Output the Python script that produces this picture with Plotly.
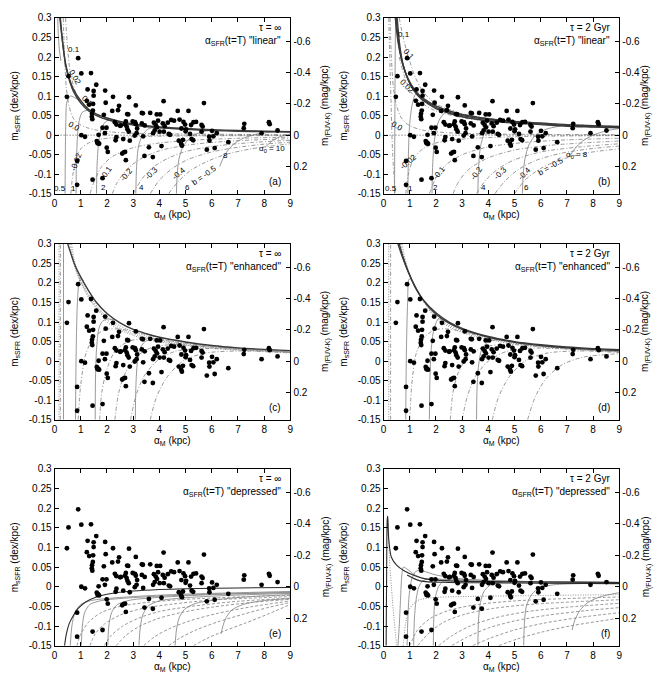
import plotly.graph_objects as go

# ---------------- data ----------------
X_TICKS = [0, 1, 2, 3, 4, 5, 6, 7, 8, 9]
Y_TICKS = [0.3, 0.25, 0.2, 0.15, 0.1, 0.05, 0, -0.05, -0.1, -0.15]
Y_TICK_TEXT = ["0.3", "0.25", "0.2", "0.15", "0.1", "0.05", "0", "-0.05", "-0.1", "-0.15"]
Y2_TICKS = [-0.6, -0.4, -0.2, 0, 0.2]
Y2_TICK_TEXT = ["-0.6", "-0.4", "-0.2", "0", "0.2"]

GAL_X = [0.47, 0.53, 0.9, 1.02, 1.39, 1.26, 1.59, 1.49, 1.49, 1.23, 1.32, 1.47, 1.46, 1.43, 1.42, 1.44,
         1.93, 1.95, 1.88, 2.23, 2.46, 2.42, 2.2, 2.84, 2.77, 2.81, 3.1, 3.33, 3.37, 3.65, 4.16, 3.9,
         4.03, 4.7, 5.11, 5.7, 7.24, 7.22, 8.18, 8.21, 8.51, 7.9, 1.02, 1.16, 1.61, 1.66, 1.7, 1.64,
         1.83, 1.98, 1.92, 1.68, 1.99, 2.03, 2.3, 2.36, 2.5, 2.36, 2.33, 2.53, 2.72, 2.69, 2.75, 2.78,
         2.83, 2.98, 3.1, 3.15, 3.13, 3.33, 3.44, 3.06, 3.38, 2.62, 2.87, 2.64, 2.69, 2.72, 2.58, 3.43,
         3.75, 3.6, 3.79, 3.86, 3.91, 3.82, 3.76, 3.95, 4.01, 4.13, 4.2, 4.17, 4.32, 4.45, 4.56, 4.77,
         4.36, 4.41, 4.08, 4.74, 4.9, 4.83, 4.86, 4.92, 4.98, 4.84, 5.02, 5.0, 5.17, 5.21, 5.4, 5.3,
         5.61, 5.65, 5.61, 5.23, 5.29, 6.01, 6.19, 5.9, 5.91, 6.06, 6.63, 5.81, 6.11, 0.86, 0.86, 1.45,
         1.83, 3.07]
GAL_Y = [0.098, 0.151, 0.197, 0.158, 0.159, 0.117, 0.129, 0.113, 0.101, 0.088, 0.078, 0.08, 0.063, 0.055, 0.047, 0.041,
         0.114, 0.083, 0.052, 0.098, 0.075, 0.064, 0.062, 0.097, 0.054, 0.053, 0.076, 0.057, 0.056, 0.057, 0.087, 0.053,
         0.053, 0.062, 0.062, 0.082, 0.029, 0.018, 0.033, 0.028, 0.012, 0.005, 0.0, -0.004, -0.015, -0.019, -0.022, -0.021,
         0.019, 0.019, 0.005, 0.001, -0.032, -0.043, 0.033, 0.027, 0.024, -0.005, -0.013, 0.025, 0.035, 0.028, 0.022, 0.015,
         0.009, 0.035, 0.028, 0.017, 0.005, 0.03, 0.025, -0.001, -0.003, -0.01, -0.014, -0.044, -0.043, -0.064, -0.047, -0.053,
         -0.056, -0.031, 0.032, 0.026, 0.02, 0.012, 0.005, 0.037, 0.009, 0.03, 0.023, 0.009, 0.032, 0.039, 0.037, 0.04,
         0.003, 0.001, -0.028, -0.014, -0.012, -0.022, -0.027, 0.034, 0.027, 0.017, 0.015, 0.01, 0.003, 0.026, 0.034, 0.033,
         0.026, 0.022, 0.009, -0.01, -0.013, 0.011, 0.005, -0.004, -0.014, -0.003, -0.018, -0.037, -0.033, -0.066, -0.127, -0.114,
         -0.11, 0.033]

ZERO_LINE = [(0, 0.0), (9, 0.0)]

# ---- panel (a): tau = inf, linear ----
A_BUNDLE = [
    [(0.2, 0.3), (0.3, 0.24), (0.4, 0.19), (0.5, 0.16), (0.7, 0.12), (1.0, 0.088), (1.3, 0.066), (1.6, 0.054), (2, 0.044),
     (2.5, 0.035), (3, 0.029), (4, 0.021), (5, 0.017), (6, 0.014), (7, 0.012), (8, 0.01), (9, 0.009)],
    [(0.22, 0.3), (0.32, 0.23), (0.42, 0.18), (0.52, 0.15), (0.72, 0.112), (1.0, 0.082), (1.3, 0.062), (1.6, 0.05), (2, 0.04),
     (2.5, 0.032), (3, 0.026), (4, 0.019), (5, 0.015), (6, 0.012), (7, 0.01), (8, 0.009), (9, 0.008)],
]
A_B_CURVES = [
    [(0.42, 0.3), (0.5, 0.22), (0.6, 0.16), (0.8, 0.11), (1.0, 0.083), (1.3, 0.063), (1.8, 0.044), (2.5, 0.032), (3.5, 0.023), (5, 0.016), (7, 0.011), (9, 0.009)],
    [(0.33, 0.3), (0.38, 0.2), (0.45, 0.12), (0.55, 0.075), (0.7, 0.045), (0.9, 0.03), (1.2, 0.02), (1.6, 0.013), (2.2, 0.008), (3, 0.005), (5, 0.003), (9, 0.001)],
    [(0.62, -0.15), (0.7, -0.1), (0.85, -0.055), (1.0, -0.035), (1.3, -0.02), (1.8, -0.01), (3, -0.004), (5, -0.002), (9, -0.001)],
    [(1.35, -0.15), (1.5, -0.12), (1.8, -0.08), (2.2, -0.055), (3, -0.032), (4, -0.02), (5.5, -0.012), (7, -0.008), (9, -0.005)],
    [(2.2, -0.15), (2.4, -0.12), (2.8, -0.085), (3.3, -0.06), (4, -0.04), (5, -0.026), (6.5, -0.016), (9, -0.009)],
    [(3.0, -0.15), (3.3, -0.115), (3.7, -0.085), (4.3, -0.06), (5, -0.042), (6, -0.029), (7.5, -0.019), (9, -0.013)],
    [(3.65, -0.15), (4.0, -0.115), (4.5, -0.085), (5.1, -0.062), (6, -0.043), (7, -0.031), (8, -0.023), (9, -0.018)],
    [(4.35, -0.15), (4.7, -0.12), (5.2, -0.09), (5.8, -0.068), (6.5, -0.05), (7.5, -0.035), (9, -0.022)],
]
A_A_CURVES = [
    [(0.40, -0.15), (0.41, -0.05), (0.43, 0.04), (0.47, 0.085), (0.6, 0.1), (0.8, 0.095), (1.0, 0.087)],
    [(0.82, -0.15), (0.83, -0.08), (0.86, -0.02), (0.92, 0.03), (1.05, 0.058), (1.3, 0.065)],
    [(1.6, -0.15), (1.62, -0.08), (1.68, -0.02), (1.8, 0.02), (2.0, 0.037), (2.3, 0.039)],
    [(3.1, -0.15), (3.13, -0.08), (3.2, -0.03), (3.35, 0.0), (3.6, 0.017), (4.0, 0.021)],
    [(4.65, -0.15), (4.68, -0.1), (4.75, -0.06), (4.9, -0.03), (5.2, -0.005), (5.6, 0.008), (6, 0.013)],
    [(6.3, -0.08), (6.5, -0.05), (6.8, -0.025), (7.2, -0.008), (7.8, 0.004), (8.5, 0.009)],
    [(8.05, -0.03), (8.3, -0.015), (8.6, -0.004), (9, 0.003)],
    [(0.12, 0.3), (0.14, 0.26), (0.18, 0.22), (0.24, 0.19)],
]
A_LABELS = [("0.1", 0.74, 0.219, 0), ("0.02", 0.78, 0.148, 60), ("0.1", 1.25, 0.086, 45), ("0.0", 0.74, 0.021, 30),
            ("-0.02", 0.84, -0.068, -70), ("-0.1", 1.95, -0.097, -55), ("-0.2", 2.74, -0.1, -50), ("-0.3", 3.68, -0.097, -45),
            ("-0.4", 4.75, -0.099, -40), ("b = -0.5", 5.7, -0.102, -35), ("0.5", 0.19, -0.137, 0), ("1", 0.74, -0.137, 0),
            ("2", 1.85, -0.135, 0), ("4", 3.3, -0.135, 0), ("6", 5.07, -0.135, 0), ("8", 6.52, -0.052, 0),
            ("α<sub>0</sub> = 10", 8.28, -0.035, 0)]

# ---- panel (b): tau = 2 Gyr, linear ----
B_BUNDLE = [
    [(0.45, 0.3), (0.55, 0.24), (0.7, 0.19), (0.9, 0.15), (1.1, 0.125), (1.4, 0.1), (1.7, 0.086), (2, 0.075), (2.5, 0.062),
     (3, 0.053), (4, 0.042), (5, 0.035), (6, 0.031), (7, 0.027), (8, 0.024), (9, 0.022)],
    [(0.48, 0.3), (0.58, 0.235), (0.72, 0.185), (0.92, 0.145), (1.12, 0.12), (1.42, 0.096), (1.72, 0.082), (2, 0.071), (2.5, 0.059),
     (3, 0.05), (4, 0.04), (5, 0.033), (6, 0.029), (7, 0.025), (8, 0.022), (9, 0.02)],
    [(0.52, 0.3), (0.62, 0.23), (0.75, 0.18), (0.95, 0.14), (1.15, 0.115), (1.45, 0.092), (1.75, 0.078), (2, 0.068), (2.5, 0.056),
     (3, 0.047), (4, 0.037), (5, 0.031), (6, 0.027), (7, 0.023), (8, 0.021), (9, 0.019)],
]
B_B_CURVES = [
    [(0.6, 0.3), (0.75, 0.25), (0.95, 0.2), (1.2, 0.15), (1.5, 0.112), (2, 0.08), (3, 0.055), (4, 0.043), (6, 0.031), (9, 0.022)],
    [(0.6, 0.2), (0.8, 0.15), (1.05, 0.11), (1.4, 0.085), (2, 0.062), (3, 0.045), (4, 0.036), (6, 0.027), (9, 0.019)],
    [(0.25, 0.3), (0.3, 0.2), (0.38, 0.12), (0.5, 0.075), (0.7, 0.042), (1, 0.024), (1.5, 0.013), (2.5, 0.006), (4, 0.003), (9, 0.001)],
    [(0.85, -0.15), (0.95, -0.1), (1.15, -0.06), (1.5, -0.035), (2, -0.02), (3, -0.01), (5, -0.004), (9, -0.001)],
    [(1.75, -0.15), (2.0, -0.11), (2.4, -0.075), (3, -0.05), (4, -0.03), (5.5, -0.018), (7, -0.012), (9, -0.008)],
    [(2.65, -0.15), (2.9, -0.115), (3.3, -0.085), (4, -0.058), (5, -0.038), (6.5, -0.025), (9, -0.015)],
    [(3.55, -0.15), (3.9, -0.115), (4.4, -0.085), (5, -0.063), (6, -0.043), (7.5, -0.03), (9, -0.022)],
    [(4.25, -0.15), (4.6, -0.12), (5.1, -0.09), (5.8, -0.065), (6.8, -0.046), (8, -0.034), (9, -0.028)],
    [(5.0, -0.15), (5.4, -0.115), (6, -0.085), (6.8, -0.062), (7.8, -0.045), (9, -0.035)],
    [(0.2, 0.3), (0.28, 0.1), (0.35, -0.05), (0.45, -0.15)],
]
B_A_CURVES = [
    [(0.42, -0.15), (0.43, 0.0), (0.44, 0.15), (0.46, 0.3)],
    [(0.93, -0.15), (0.95, -0.05), (1.0, 0.03), (1.1, 0.08), (1.22, 0.105), (1.35, 0.108)],
    [(1.85, -0.15), (1.88, -0.07), (1.95, -0.01), (2.1, 0.035), (2.35, 0.058), (2.7, 0.062)],
    [(3.6, -0.15), (3.63, -0.08), (3.7, -0.03), (3.85, 0.005), (4.1, 0.03), (4.5, 0.038)],
    [(5.3, -0.15), (5.33, -0.1), (5.4, -0.06), (5.55, -0.025), (5.8, 0.0), (6.2, 0.015), (6.8, 0.024)],
    [(7.1, -0.055), (7.3, -0.035), (7.6, -0.015), (8, 0.0), (8.5, 0.011), (9, 0.017)],
]
B_LABELS = [("0.1", 0.78, 0.258, 0), ("0.1", 0.97, 0.207, 50), ("0.02", 0.9, 0.125, 45), ("0.0", 0.53, 0.021, 30),
            ("-0.02", 0.97, -0.068, -40), ("-0.1", 2.1, -0.097, -50), ("-0.2", 3.55, -0.099, -55), ("-0.3", 4.44, -0.097, -45),
            ("-0.4", 5.38, -0.097, -45), ("b = -0.5", 6.39, -0.081, -30), ("0.5", 0.28, -0.137, 0), ("1", 1.03, -0.137, 0),
            ("2", 2.0, -0.135, 0), ("4", 3.8, -0.135, 0), ("6", 5.45, -0.135, 0), ("α<sub>0</sub> = 8", 7.4, -0.052, 0)]

# ---- panel (c): tau = inf, enhanced ----
C_BUNDLE = [
    [(0.5, 0.3), (0.6, 0.28), (0.75, 0.25), (1.0, 0.215), (1.3, 0.18), (1.6, 0.15), (2, 0.122), (2.5, 0.098), (3, 0.081),
     (3.5, 0.07), (4, 0.061), (5, 0.049), (6, 0.04), (7, 0.034), (8, 0.03), (9, 0.027)],
]
C_DOTTED = [
    [(0.55, 0.3), (0.65, 0.27), (0.8, 0.235), (1.05, 0.2), (1.35, 0.165), (1.65, 0.138), (2, 0.113), (2.5, 0.09), (3, 0.075),
     (3.5, 0.064), (4, 0.056), (5, 0.045), (6, 0.037), (7, 0.032), (8, 0.028), (9, 0.025)],
    [(0.6, 0.3), (0.7, 0.265), (0.85, 0.225), (1.1, 0.19), (1.4, 0.155), (1.7, 0.13), (2, 0.106), (2.5, 0.084), (3, 0.07),
     (3.5, 0.06), (4, 0.052), (5, 0.042), (6, 0.035), (7, 0.03), (8, 0.026), (9, 0.023)],
    [(0.65, 0.3), (0.75, 0.26), (0.9, 0.22), (1.15, 0.18), (1.45, 0.147), (1.75, 0.123), (2, 0.1), (2.5, 0.08), (3, 0.066),
     (3.5, 0.056), (4, 0.049), (5, 0.04), (6, 0.033), (7, 0.028), (8, 0.025), (9, 0.022)],
    [(0.17, -0.15), (0.17, 0.3)],
]
C_A_CURVES = [
    [(0.34, -0.15), (0.34, 0.3)],
    [(0.8, -0.15), (0.81, -0.05), (0.83, 0.05), (0.87, 0.15), (0.93, 0.2), (1.0, 0.212), (1.1, 0.205)],
    [(1.55, -0.15), (1.56, -0.05), (1.6, 0.03), (1.68, 0.08), (1.8, 0.1), (2, 0.108), (2.3, 0.105)],
    [(3.08, -0.15), (3.1, -0.07), (3.15, -0.01), (3.25, 0.03), (3.45, 0.05), (3.8, 0.057), (4.2, 0.057)],
]
C_B_CURVES = [
    [(0.22, -0.15), (0.22, 0.3)],
    [(0.9, -0.15), (1.0, -0.06), (1.2, 0.02), (1.5, 0.06), (1.9, 0.08), (2.5, 0.082), (3.5, 0.068), (5, 0.048), (7, 0.033), (9, 0.025)],
    [(1.72, -0.15), (1.8, -0.08), (2.0, -0.02), (2.3, 0.025), (2.8, 0.05), (3.5, 0.058), (4.5, 0.05), (6, 0.038), (9, 0.024)],
    [(2.3, -0.15), (2.45, -0.08), (2.7, -0.03), (3.1, 0.01), (3.7, 0.035), (4.5, 0.042), (6, 0.036), (9, 0.023)],
    [(2.9, -0.15), (3.1, -0.09), (3.4, -0.04), (3.9, 0.0), (4.6, 0.025), (5.5, 0.032), (7, 0.03), (9, 0.022)],
    [(3.65, -0.15), (3.9, -0.09), (4.3, -0.04), (4.9, 0.0), (5.7, 0.02), (7, 0.026), (9, 0.021)],
]

# ---- panel (d): tau = 2 Gyr, enhanced ----
D_BUNDLE = [
    [(0.55, 0.3), (0.7, 0.27), (0.9, 0.235), (1.2, 0.19), (1.5, 0.158), (2, 0.124), (2.5, 0.1), (3, 0.084), (4, 0.063),
     (5, 0.05), (6, 0.042), (7, 0.036), (8, 0.032), (9, 0.029)],
    [(0.6, 0.3), (0.75, 0.265), (0.95, 0.228), (1.25, 0.185), (1.55, 0.153), (2, 0.12), (2.5, 0.097), (3, 0.081), (4, 0.061),
     (5, 0.048), (6, 0.04), (7, 0.034), (8, 0.03), (9, 0.027)],
]
D_DOTTED = [
    [(0.65, 0.3), (0.8, 0.26), (1.0, 0.22), (1.3, 0.178), (1.6, 0.146), (2, 0.114), (2.5, 0.092), (3, 0.077), (4, 0.058),
     (5, 0.046), (6, 0.038), (7, 0.033), (8, 0.029), (9, 0.026)],
    [(0.7, 0.3), (0.85, 0.255), (1.05, 0.213), (1.35, 0.172), (1.65, 0.14), (2, 0.109), (2.5, 0.088), (3, 0.073), (4, 0.055),
     (5, 0.044), (6, 0.036), (7, 0.031), (8, 0.027), (9, 0.024)],
    [(0.2, -0.15), (0.2, 0.3)],
]
D_A_CURVES = [
    [(0.85, -0.15), (0.86, -0.05), (0.88, 0.05), (0.92, 0.15), (0.98, 0.21), (1.08, 0.21)],
    [(1.75, -0.15), (1.77, -0.05), (1.82, 0.03), (1.92, 0.08), (2.1, 0.108), (2.4, 0.1)],
    [(3.55, -0.15), (3.57, -0.07), (3.63, -0.01), (3.75, 0.03), (4.0, 0.05), (4.4, 0.055)],
]
D_B_CURVES = [
    [(0.27, -0.15), (0.27, 0.3)],
    [(1.0, -0.15), (1.08, -0.06), (1.25, 0.02), (1.55, 0.06), (1.95, 0.08), (2.5, 0.082), (3.5, 0.068), (5, 0.049), (7, 0.034), (9, 0.026)],
    [(2.55, -0.15), (2.65, -0.08), (2.85, -0.03), (3.2, 0.01), (3.8, 0.035), (4.6, 0.043), (6, 0.037), (9, 0.024)],
    [(3.0, -0.15), (3.2, -0.09), (3.5, -0.04), (4.0, 0.0), (4.7, 0.025), (5.6, 0.033), (7, 0.031), (9, 0.023)],
    [(4.15, -0.15), (4.4, -0.09), (4.8, -0.04), (5.4, 0.0), (6.2, 0.02), (7.4, 0.026), (9, 0.022)],
    [(5.5, -0.15), (5.8, -0.09), (6.2, -0.045), (6.8, -0.01), (7.6, 0.01), (9, 0.019)],
]

# ---- panel (e): tau = inf, depressed ----
E_BUNDLE = [
    [(0.38, -0.15), (0.45, -0.12), (0.55, -0.095), (0.7, -0.075), (0.9, -0.055), (1.2, -0.038), (1.6, -0.026), (2, -0.019),
     (3, -0.011), (4, -0.007), (5, -0.005), (7, -0.003), (9, -0.002)],
]
E_A_CURVES = [
    [(0.6, -0.15), (0.66, -0.1), (0.78, -0.065), (1.0, -0.045), (1.4, -0.035), (2.0, -0.03), (3, -0.025), (4.5, -0.02), (6.5, -0.016), (9, -0.012)],
    [(1.02, -0.15), (1.06, -0.1), (1.15, -0.065), (1.35, -0.045), (1.8, -0.035), (2.5, -0.03), (4, -0.024), (6, -0.019), (9, -0.014)],
    [(2.03, -0.15), (2.07, -0.1), (2.18, -0.065), (2.4, -0.045), (2.9, -0.034), (4, -0.027), (6, -0.02), (9, -0.015)],
    [(3.22, -0.15), (3.26, -0.11), (3.35, -0.075), (3.55, -0.05), (4, -0.036), (5, -0.028), (7, -0.021), (9, -0.017)],
    [(4.6, -0.15), (4.65, -0.11), (4.75, -0.08), (4.95, -0.058), (5.4, -0.042), (6.3, -0.032), (7.5, -0.025), (9, -0.02)],
    [(6.35, -0.12), (6.5, -0.085), (6.75, -0.06), (7.2, -0.045), (8, -0.035), (9, -0.03)],
]
E_B_CURVES = [
    [(0.85, -0.15), (1.0, -0.12), (1.3, -0.09), (1.8, -0.065), (2.5, -0.05), (3.5, -0.04), (5, -0.032), (7, -0.026), (9, -0.022)],
    [(1.35, -0.15), (1.55, -0.12), (1.9, -0.095), (2.5, -0.072), (3.3, -0.056), (4.5, -0.044), (6, -0.034), (9, -0.025)],
    [(1.9, -0.15), (2.15, -0.125), (2.6, -0.1), (3.2, -0.08), (4, -0.063), (5.2, -0.05), (7, -0.037), (9, -0.029)],
    [(2.35, -0.15), (2.7, -0.125), (3.2, -0.102), (3.9, -0.082), (4.8, -0.066), (6, -0.052), (7.5, -0.04), (9, -0.032)],
    [(3.4, -0.15), (3.8, -0.128), (4.4, -0.106), (5.2, -0.086), (6.2, -0.068), (7.5, -0.051), (9, -0.036)],
    [(4.35, -0.15), (4.8, -0.13), (5.4, -0.11), (6.2, -0.09), (7.2, -0.07), (8.2, -0.052), (9, -0.04)],
    [(5.3, -0.15), (5.8, -0.132), (6.5, -0.112), (7.3, -0.092), (8.2, -0.068), (9, -0.045)],
]

# ---- panel (f): tau = 2 Gyr, depressed ----
F_BUNDLE = [
    [(0.1, -0.15), (0.12, 0.05), (0.14, 0.17), (0.16, 0.18), (0.2, 0.12), (0.3, 0.075), (0.5, 0.055), (0.8, 0.04), (1.2, 0.028),
     (1.6, 0.02), (2.5, 0.015), (4, 0.013), (6, 0.012), (9, 0.011)],
    [(0.9, 0.03), (1.4, 0.015), (2.5, 0.011), (4, 0.01), (6, 0.009), (9, 0.008)],
]
F_DOTTED = [
    [(0.16, 0.17), (0.22, 0.08), (0.3, 0.0), (0.4, -0.08), (0.5, -0.15)],
    [(0.75, -0.15), (0.85, -0.09), (1.0, -0.055), (1.3, -0.035), (1.8, -0.028), (3, -0.025), (5, -0.023), (9, -0.02)],
]
F_A_CURVES = [
    [(0.55, -0.15), (0.6, -0.1), (0.65, -0.03), (0.7, 0.03), (0.76, 0.05), (0.9, 0.045), (1.2, 0.03), (1.6, 0.02), (2.5, 0.015)],
    [(0.9, -0.15), (0.93, -0.08), (0.98, -0.02), (1.08, 0.02), (1.25, 0.04), (1.5, 0.04), (2, 0.03), (3, 0.02), (5, 0.014), (9, 0.011)],
    [(1.15, -0.15), (1.18, -0.08), (1.25, -0.03), (1.35, 0.0), (1.5, 0.015), (1.8, 0.02), (2.5, 0.018), (4, 0.014), (9, 0.011)],
    [(1.9, -0.15), (1.92, -0.08), (1.97, -0.03), (2.1, 0.0), (2.3, 0.015), (2.6, 0.02), (3.2, 0.018), (5, 0.014), (9, 0.011)],
    [(3.6, -0.15), (3.63, -0.08), (3.7, -0.04), (3.85, -0.01), (4.1, 0.005), (4.5, 0.012), (5.2, 0.013), (9, 0.011)],
    [(5.35, -0.15), (5.38, -0.09), (5.45, -0.05), (5.65, -0.02), (5.95, -0.003), (6.5, 0.005), (7.5, 0.008), (9, 0.009)],
    [(7.2, -0.11), (7.3, -0.085), (7.5, -0.06), (7.8, -0.04), (8.3, -0.025), (9, -0.015)],
]
F_B_CURVES = [
    [(1.0, -0.15), (1.3, -0.11), (1.8, -0.08), (2.5, -0.06), (3.5, -0.046), (5, -0.036), (7, -0.03), (9, -0.026)],
    [(1.3, -0.15), (1.7, -0.12), (2.3, -0.09), (3.1, -0.07), (4.2, -0.055), (5.8, -0.044), (9, -0.033)],
    [(2.1, -0.15), (2.6, -0.125), (3.3, -0.1), (4.2, -0.08), (5.4, -0.064), (7, -0.052), (9, -0.042)],
    [(2.6, -0.15), (3.2, -0.128), (4, -0.105), (5, -0.087), (6.3, -0.072), (7.7, -0.061), (9, -0.053)],
    [(3.4, -0.15), (4.1, -0.13), (5, -0.11), (6.1, -0.093), (7.5, -0.078), (9, -0.066)],
    [(4.4, -0.15), (5.1, -0.133), (6, -0.116), (7.1, -0.1), (8.2, -0.088), (9, -0.08)],
]

PANEL_TAU = ["τ = ∞", "τ = 2 Gyr", "τ = ∞", "τ = 2 Gyr", "τ = ∞", "τ = 2 Gyr"]
PANEL_MODE = ["linear", "linear", "enhanced", "enhanced", "depressed", "depressed"]
PANEL_TAG = ["(a)", "(b)", "(c)", "(d)", "(e)", "(f)"]

# ---------------- figure ----------------
# the page body adds a margin on every side; the figure is made small enough
# that the page never scrolls, and reference pixels are shifted by the offset
PAGE_MARGIN = 8
OFF_X, OFF_Y = 10, 10
W, H = 665 - 2 * PAGE_MARGIN, 699 - 2 * PAGE_MARGIN
COL_X = [(54, 292), (386, 624)]
ROW_Y = [(14, 193), (244, 423), (473, 653)]
XTITLE_Y = [215, 445, 675]
LTITLE_X = [14, 346]
RTITLE_X = [328, 651]
FONT = "Liberation Sans, Arial, Helvetica, sans-serif"


def px(xp):
    return (xp - OFF_X) / W


def py(yp):
    return 1 - (yp - OFF_Y) / H


fig = go.Figure()

STYLE = {
    "bundle": dict(color="#3a3a3a", width=1.4, dash="solid"),
    "thin": dict(color="#2a2a2a", width=1.1, dash="solid"),
    "solid": dict(color="#8c8c8c", width=0.9, dash="solid"),
    "dashdot": dict(color="#8c8c8c", width=0.9, dash="4px,2px,1px,2px"),
    "dash": dict(color="#8c8c8c", width=0.9, dash="3px,2px"),
    "dot": dict(color="#8c8c8c", width=1.0, dash="1px,1.5px"),
    "zero": dict(color="#222222", width=0.8, dash="1px,2px"),
}


def add_curves(curves, idx, style):
    for c in curves:
        fig.add_trace(go.Scatter(
            x=[p[0] for p in c], y=[p[1] for p in c], mode="lines",
            line=dict(shape="spline", smoothing=0.8, **STYLE[style]),
            xaxis=f"x{idx}", yaxis=f"y{idx}", showlegend=False, hoverinfo="skip"))


PANEL_CURVES = [
    [(A_B_CURVES, "dashdot"), (A_A_CURVES, "solid"), ([ZERO_LINE], "zero"), (A_BUNDLE, "bundle")],
    [(B_B_CURVES, "dashdot"), (B_A_CURVES, "solid"), ([ZERO_LINE], "zero"), (B_BUNDLE, "bundle")],
    [(C_B_CURVES, "dashdot"), (C_DOTTED, "dot"), (C_A_CURVES, "solid"), (C_BUNDLE, "bundle")],
    [(D_B_CURVES, "dashdot"), (D_DOTTED, "dot"), (D_A_CURVES, "solid"), (D_BUNDLE, "bundle")],
    [(E_B_CURVES, "dash"), (E_A_CURVES, "solid"), (E_BUNDLE, "thin")],
    [(F_B_CURVES, "dash"), (F_DOTTED, "dot"), (F_A_CURVES, "solid"), (F_BUNDLE, "thin")],
]

annotations = []
axfont = dict(family=FONT, size=10, color="black")
for k in range(6):
    idx = k + 1
    col, row = k % 2, k // 2
    x0, x1 = COL_X[col]
    y0, y1 = ROW_Y[row]
    xd = [px(x0), px(x1)]
    yd = [py(y1), py(y0)]

    for curves, style in PANEL_CURVES[k]:
        add_curves(curves, idx, style)

    fig.add_trace(go.Scatter(
        x=GAL_X, y=GAL_Y, mode="markers",
        marker=dict(color="black", size=4.8, line=dict(width=0)),
        xaxis=f"x{idx}", yaxis=f"y{idx}", showlegend=False, hoverinfo="skip"))
    # anchor trace for the right-hand axis
    fig.add_trace(go.Scatter(
        x=[4.5], y=[0], mode="markers", marker=dict(opacity=0),
        xaxis=f"x{idx}", yaxis=f"y{idx + 6}", showlegend=False, hoverinfo="skip"))

    fig.update_layout(**{
        f"xaxis{idx}": dict(
            domain=xd, anchor=f"y{idx}", range=[0, 9], tickvals=X_TICKS,
            ticks="inside", ticklen=4, tickcolor="black", mirror="ticks",
            showline=True, linecolor="black", linewidth=1, showgrid=False, zeroline=False,
            tickfont=axfont),
        f"yaxis{idx}": dict(
            domain=yd, anchor=f"x{idx}", range=[-0.15, 0.3], tickvals=Y_TICKS, ticktext=Y_TICK_TEXT,
            ticks="inside", ticklen=4, tickcolor="black", showline=True, linecolor="black",
            linewidth=1, showgrid=False, zeroline=False, tickfont=axfont),
        f"yaxis{idx + 6}": dict(
            overlaying=f"y{idx}", anchor=f"x{idx}", side="right", range=[0.375, -0.75],
            tickvals=Y2_TICKS, ticktext=Y2_TICK_TEXT, ticks="inside", ticklen=4, tickcolor="black",
            showline=True, linecolor="black", linewidth=1, showgrid=False, zeroline=False,
            tickfont=axfont),
    })

    # axis titles
    annotations.append(dict(text="α<sub>M</sub> (kpc)", x=px((x0 + x1) / 2), y=py(XTITLE_Y[row]),
                            xref="paper", yref="paper", showarrow=False, font=axfont,
                            xanchor="center", yanchor="middle"))
    annotations.append(dict(text="m<sub>sSFR</sub> (dex/kpc)", x=px(LTITLE_X[col]), y=py((y0 + y1) / 2),
                            xref="paper", yref="paper", showarrow=False, font=axfont, textangle=-90,
                            xanchor="center", yanchor="middle"))
    annotations.append(dict(text="m<sub>(FUV-K)</sub> (mag/kpc)", x=px(RTITLE_X[col]), y=py((y0 + y1) / 2),
                            xref="paper", yref="paper", showarrow=False, font=axfont, textangle=-90,
                            xanchor="center", yanchor="middle"))

    tfont = dict(family=FONT, size=10, color="black")
    annotations.append(dict(text=PANEL_TAU[k], x=8.72, y=0.275, xref=f"x{idx}", yref=f"y{idx}",
                            xanchor="right", yanchor="middle", showarrow=False, font=tfont))
    annotations.append(dict(text=f'α<sub>SFR</sub>(t=T) "{PANEL_MODE[k]}"', x=8.72, y=0.242,
                            xref=f"x{idx}", yref=f"y{idx}", xanchor="right", yanchor="middle",
                            showarrow=False, font=tfont))
    annotations.append(dict(text=PANEL_TAG[k], x=8.72, y=-0.118, xref=f"x{idx}", yref=f"y{idx}",
                            xanchor="right", yanchor="middle", showarrow=False, font=tfont))

for idx, labels in ((1, A_LABELS), (2, B_LABELS)):
    for txt, lx, ly, ang in labels:
        annotations.append(dict(text=txt, x=lx, y=ly, xref=f"x{idx}", yref=f"y{idx}",
                                showarrow=False, textangle=ang,
                                font=dict(family=FONT, size=8, color="black")))

fig.update_layout(
    width=W, height=H, margin=dict(l=0, r=0, t=0, b=0),
    paper_bgcolor="white", plot_bgcolor="white",
    font=dict(family=FONT, size=10, color="black"),
    annotations=annotations, showlegend=False)

fig.write_html("out.html")
